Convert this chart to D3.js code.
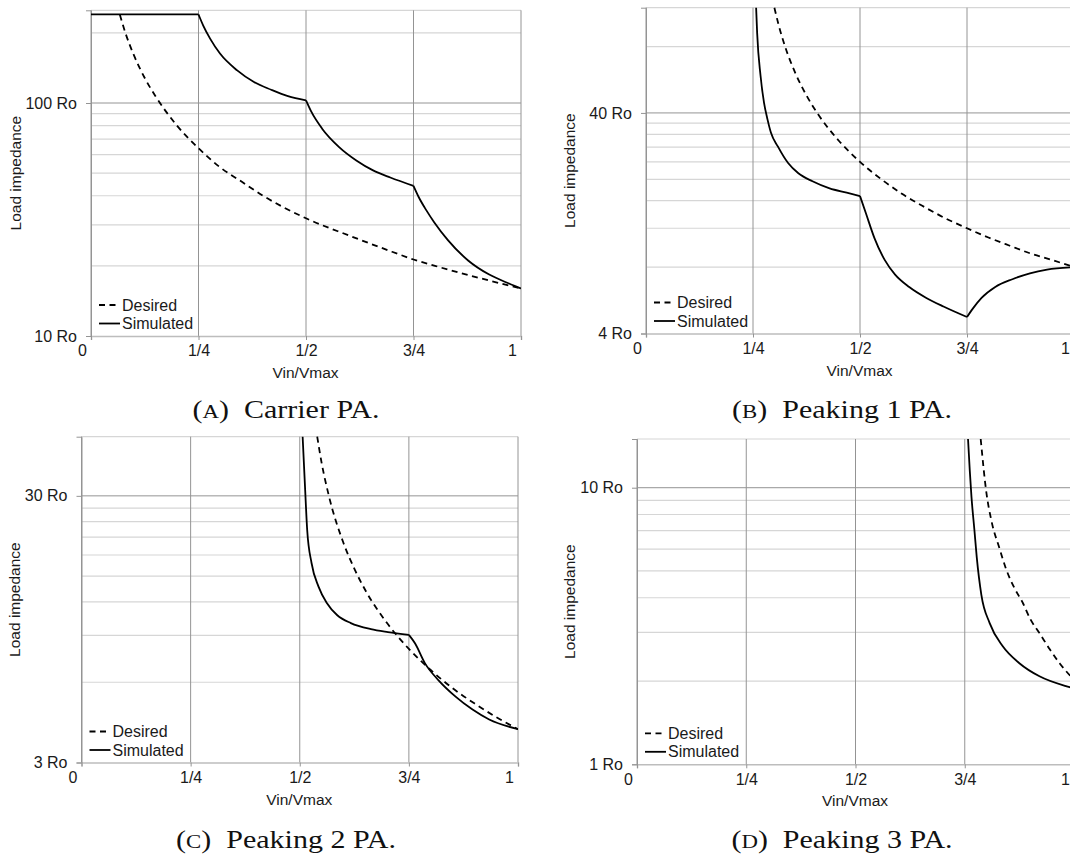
<!DOCTYPE html>
<html>
<head>
<meta charset="utf-8">
<script src="https://cdn.jsdelivr.net/npm/d3@7"></script>
<style>
  html, body { margin: 0; padding: 0; background: #fff; }
  svg { display: block; }
</style>
</head>
<body>
<svg id="fig" width="1070" height="858"></svg>
<script>
// ---- shared axis content ----
const xTickValues = [0, 0.25, 0.5, 0.75, 1];
const xTickLabels = ["0", "1/4", "1/2", "3/4", "1"];
const xTitle = "Vin/Vmax";
const yTitle = "Load impedance";
const legendLabels = ["Desired", "Simulated"];
const breakPoints = [0.25, 0.5, 0.75];

// ---- (A) Carrier PA ----
const carrierYDomain = [10, 250];
const carrierYMajor = [10, 100];
const carrierYMajorLabels = ["10 Ro", "100 Ro"];
const carrierYMinor = [20, 30, 40, 50, 60, 70, 80, 90, 200];
const carrierDesiredX = [0.067, 0.08, 0.1, 0.125, 0.15, 0.2, 0.25, 0.3, 0.35, 0.4, 0.5, 0.6, 0.7, 0.75, 0.8, 0.9, 1.0];
const carrierDesiredZ = [240, 200, 160, 128, 107, 80, 64, 53, 46, 40, 32, 27, 23, 21.3, 20, 17.8, 16];
const carrierSimX = [0, 0.25, 0.261, 0.277, 0.3, 0.34, 0.379, 0.419, 0.458, 0.5, 0.512, 0.5375, 0.577, 0.617, 0.656, 0.696, 0.75, 0.762, 0.78, 0.798, 0.83, 0.877, 0.925, 0.972, 1.0];
const carrierSimZ = [240, 240, 215, 189, 163, 138, 123, 114, 107, 102.6, 92, 77.6, 64.7, 56.7, 51.4, 47.9, 44.1, 39.5, 34.6, 30.8, 25.8, 21.1, 18.4, 16.8, 16.0];

// ---- (B) Peaking 1 PA ----
const peak1YDomain = [4, 120];
const peak1YMajor = [4, 40];
const peak1YMajorLabels = ["4 Ro", "40 Ro"];
const peak1YMinor = [8, 12, 16, 20, 24, 28, 32, 36, 80];
const peak1DesiredX = [0.3, 0.31, 0.325, 0.35, 0.375, 0.4, 0.45, 0.5, 0.55, 0.6, 0.65, 0.7, 0.75, 0.8, 0.85, 0.9, 0.95, 1.0];
const peak1DesiredZ = [120, 100, 80, 60, 48, 40, 30, 24, 20, 17.1, 15, 13.3, 12, 10.9, 10, 9.2, 8.6, 8];
const peak1SimX = [0.2573, 0.2597, 0.2677, 0.2758, 0.284, 0.292, 0.308, 0.332, 0.356, 0.389, 0.429, 0.469, 0.5, 0.514, 0.534, 0.558, 0.582, 0.615, 0.655, 0.695, 0.75, 0.764, 0.784, 0.816, 0.856, 0.897, 0.937, 1.0];
const peak1SimZ = [120, 92, 58.8, 44.4, 37.3, 32.5, 28.2, 23.7, 21.3, 19.6, 18.2, 17.4, 16.8, 14.0, 10.8, 8.6, 7.4, 6.5, 5.8, 5.3, 4.75, 5.2, 5.8, 6.5, 7.05, 7.5, 7.8, 8.0];

// ---- (C) Peaking 2 PA ----
const peak2YDomain = [3, 50];
const peak2YMajor = [3, 30];
const peak2YMajorLabels = ["3 Ro", "30 Ro"];
const peak2YMinor = [6, 9, 12, 15, 18, 21, 24, 27];
const peak2DesiredX = [0.54, 0.55, 0.5667, 0.6, 0.625, 0.65, 0.7, 0.75, 0.8, 0.85, 0.9, 0.95, 1.0];
const peak2DesiredZ = [50, 40, 30, 20, 16, 13.3, 10, 8, 6.67, 5.7, 5, 4.44, 4];
const peak2SimX = [0.5066, 0.512, 0.517, 0.527, 0.543, 0.562, 0.586, 0.617, 0.663, 0.702, 0.75, 0.764, 0.787, 0.818, 0.857, 0.895, 0.934, 1.0];
const peak2SimZ = [50, 32.6, 22.4, 16.8, 13.7, 11.9, 10.7, 10.0, 9.49, 9.25, 9.03, 8.4, 7.06, 6.1, 5.3, 4.75, 4.35, 4.0];

// ---- (D) Peaking 3 PA ----
const peak3YDomain = [1, 15];
const peak3YMajor = [1, 10];
const peak3YMajorLabels = ["1 Ro", "10 Ro"];
const peak3YMinor = [2, 3, 4, 5, 6, 7, 8, 9];
const peak3DesiredX = [0.7865, 0.7995, 0.811, 0.83, 0.845, 0.865, 0.883, 0.9, 0.921, 0.945, 0.967, 1.0];
const peak3DesiredZ = [15, 9.6, 7.6, 6.0, 5.06, 4.3, 3.83, 3.35, 2.98, 2.6, 2.32, 2.02];
const peak3SimX = [0.7575, 0.7614, 0.7653, 0.772, 0.7775, 0.788, 0.807, 0.837, 0.875, 0.921, 0.99, 1.0];
const peak3SimZ = [15, 11.6, 9.3, 7.06, 5.6, 4.1, 3.24, 2.67, 2.32, 2.08, 1.9, 1.88];

const captionTexts = [
  ["A", "Carrier PA."],
  ["B", "Peaking 1 PA."],
  ["C", "Peaking 2 PA."],
  ["D", "Peaking 3 PA."]
];

// ---- layout of the four sub-figures ----
const panels = [
  { frame: { left: 91, right: 521, top: 10.3, bottom: 336 }, yDomain: carrierYDomain,
    major: carrierYMajor, majorLabels: carrierYMajorLabels, minor: carrierYMinor,
    desired: [carrierDesiredX, carrierDesiredZ], sim: [carrierSimX, carrierSimZ],
    yTitleX: 16, caption: captionTexts[0], capX: 286, capY: 418 },
  { frame: { left: 646, right: 1074, top: 7.7, bottom: 333.5 }, yDomain: peak1YDomain,
    major: peak1YMajor, majorLabels: peak1YMajorLabels, minor: peak1YMinor,
    desired: [peak1DesiredX, peak1DesiredZ], sim: [peak1SimX, peak1SimZ],
    yTitleX: 570, caption: captionTexts[1], capX: 842, capY: 418 },
  { frame: { left: 81.5, right: 518, top: 436.7, bottom: 762.5 }, yDomain: peak2YDomain,
    major: peak2YMajor, majorLabels: peak2YMajorLabels, minor: peak2YMinor,
    desired: [peak2DesiredX, peak2DesiredZ], sim: [peak2SimX, peak2SimZ],
    yTitleX: 15, caption: captionTexts[2], capX: 286, capY: 848 },
  { frame: { left: 637, right: 1074, top: 439, bottom: 764.3 }, yDomain: peak3YDomain,
    major: peak3YMajor, majorLabels: peak3YMajorLabels, minor: peak3YMinor,
    desired: [peak3DesiredX, peak3DesiredZ], sim: [peak3SimX, peak3SimZ],
    yTitleX: 570, caption: captionTexts[3], capX: 842, capY: 848 }
];

const svg = d3.select("#fig");
const sansFont = "'Liberation Sans', Arial, sans-serif";
const serifFont = "'Liberation Serif', 'Times New Roman', serif";
const minorColor = "#d6d6d6";
const majorColor = "#949494";
const labelColor = "#1a1a1a";

// split a simulated trace at the stage turn-on points so the corners stay sharp
function splitAtBreaks(pts) {
  const segs = [];
  let cur = [];
  pts.forEach(p => {
    cur.push(p);
    if (cur.length > 1 && breakPoints.some(k => Math.abs(p.x - k) < 1e-9)) {
      segs.push(cur);
      cur = [p];
    }
  });
  if (cur.length > 1) segs.push(cur);
  return segs;
}

panels.forEach((p, i) => {
  const f = p.frame;
  const x = d3.scaleLinear().domain([0, 1]).range([f.left, f.right]);
  const y = d3.scaleLog().domain(p.yDomain).range([f.bottom, f.top]);
  const g = svg.append("g");

  // horizontal minor grid
  g.selectAll(null).data(p.minor).join("line")
    .attr("x1", f.left).attr("x2", f.right)
    .attr("y1", d => y(d)).attr("y2", d => y(d))
    .attr("stroke", minorColor).attr("stroke-width", 1.2);

  // top border of the plot area
  g.append("line")
    .attr("x1", f.left).attr("x2", f.right)
    .attr("y1", y(p.yDomain[1])).attr("y2", y(p.yDomain[1]))
    .attr("stroke", minorColor).attr("stroke-width", 1.2);

  // horizontal major grid (upper decade line)
  g.selectAll(null).data(p.major.slice(1)).join("line")
    .attr("x1", f.left).attr("x2", f.right)
    .attr("y1", d => y(d)).attr("y2", d => y(d))
    .attr("stroke", majorColor).attr("stroke-width", 1);

  // vertical grid at each quarter
  g.selectAll(null).data(xTickValues).join("line")
    .attr("x1", d => x(d)).attr("x2", d => x(d))
    .attr("y1", f.top).attr("y2", f.bottom)
    .attr("stroke", majorColor).attr("stroke-width", 1);

  // bottom axis
  const xAxis = d3.axisBottom(x).tickValues(xTickValues)
    .tickFormat((d, j) => xTickLabels[j]).tickSize(4).tickPadding(5);
  const gx = g.append("g").attr("transform", `translate(0,${f.bottom})`).call(xAxis);
  gx.select(".domain").attr("stroke", "#bdbdbd").attr("stroke-width", 1.5);
  gx.selectAll(".tick line").attr("stroke", majorColor);
  gx.selectAll(".tick text")
    .attr("font-family", sansFont).attr("font-size", 16).attr("fill", labelColor)
    .attr("dx", (d, j) => (j === 0 || j === xTickLabels.length - 1) ? -9 : 0);

  // left axis (log scale, labels only at decades)
  const yAxis = d3.axisLeft(y).tickValues(p.major)
    .tickFormat((d, j) => p.majorLabels[j]).tickSize(5).tickPadding(9);
  const gy = g.append("g").attr("transform", `translate(${f.left},0)`).call(yAxis);
  gy.select(".domain").attr("stroke", majorColor);
  gy.selectAll(".tick line").attr("stroke", majorColor);
  gy.selectAll(".tick text")
    .attr("font-family", sansFont).attr("font-size", 16).attr("fill", labelColor);

  // axis titles
  g.append("text")
    .attr("x", (f.left + f.right) / 2 - 0.5).attr("y", f.bottom + 42)
    .attr("text-anchor", "middle")
    .attr("font-family", sansFont).attr("font-size", 15.5).attr("fill", labelColor)
    .text(xTitle);
  g.append("text")
    .attr("transform", `translate(${p.yTitleX},${(f.top + f.bottom) / 2}) rotate(-90)`)
    .attr("text-anchor", "middle").attr("dy", "0.35em")
    .attr("font-family", sansFont).attr("font-size", 15.5).attr("fill", labelColor)
    .text(yTitle);

  // curves
  const clipId = "clip" + i;
  svg.append("clipPath").attr("id", clipId).append("rect")
    .attr("x", f.left).attr("y", f.top - 1)
    .attr("width", f.right - f.left).attr("height", f.bottom - f.top + 1);
  const line = d3.line().x(d => x(d.x)).y(d => y(d.z)).curve(d3.curveMonotoneX);
  const curves = g.append("g").attr("clip-path", `url(#${clipId})`);

  const desiredPts = p.desired[0].map((v, j) => ({ x: v, z: p.desired[1][j] }));
  curves.append("path").datum(desiredPts)
    .attr("d", line).attr("fill", "none")
    .attr("stroke", "#000").attr("stroke-width", 1.8)
    .attr("stroke-dasharray", "6 4.5");

  const simPts = p.sim[0].map((v, j) => ({ x: v, z: p.sim[1][j] }));
  curves.selectAll(null).data(splitAtBreaks(simPts)).join("path")
    .attr("d", line).attr("fill", "none")
    .attr("stroke", "#000").attr("stroke-width", 1.8)
    .attr("stroke-linejoin", "round");

  // legend
  const lx = f.left + 8;
  const legendRows = [f.bottom - 31, f.bottom - 12.5];
  legendLabels.forEach((lab, j) => {
    g.append("line")
      .attr("x1", lx).attr("x2", lx + 21)
      .attr("y1", legendRows[j]).attr("y2", legendRows[j])
      .attr("stroke", "#000").attr("stroke-width", 1.8)
      .attr("stroke-dasharray", j === 0 ? "6 4.5" : null);
    g.append("text")
      .attr("x", lx + 23).attr("y", legendRows[j]).attr("dy", "0.35em")
      .attr("font-family", sansFont).attr("font-size", 16).attr("fill", labelColor)
      .text(lab);
  });

  // sub-figure caption
  const cap = svg.append("text")
    .attr("transform", `translate(${p.capX},${p.capY}) scale(1.2,1)`)
    .attr("text-anchor", "middle")
    .attr("font-family", serifFont).attr("font-size", 25).attr("fill", "#111");
  cap.append("tspan").text("(");
  cap.append("tspan").attr("font-size", 19).text(p.caption[0]);
  cap.append("tspan").text(")\u2002" + p.caption[1]);
});
</script>
</body>
</html>
